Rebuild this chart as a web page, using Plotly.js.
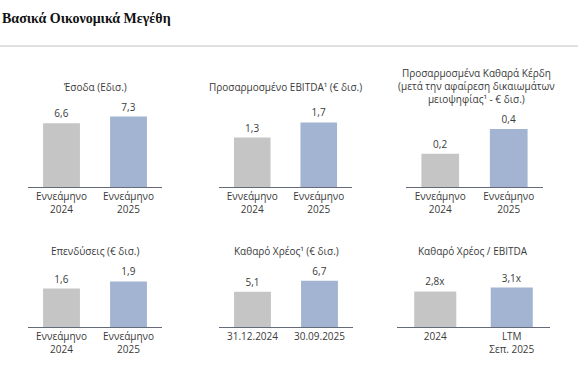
<!DOCTYPE html>
<html>
<head>
<meta charset="utf-8">
<script src="https://cdn.plot.ly/plotly-3.0.1.min.js"></script>
<style>html,body{margin:0;padding:0;background:#fff;}#chart{width:578px;height:391px;}</style>
</head>
<body>
<div id="chart"></div>
<script>
// ---- data ----
const nineMonthCats = ['Εννεάμηνο<br>2024', 'Εννεάμηνο<br>2025'];
const debtCats = ['31.12.2024', '30.09.2025'];
const leverageCats = ['2024', 'LTM<br>Σεπ. 2025'];

const revenue = [6.6, 7.3];
const revenueLabels = ['6,6', '7,3'];
const ebitda = [1.3, 1.7];
const ebitdaLabels = ['1,3', '1,7'];
const netProfit = [0.23, 0.40];
const netProfitLabels = ['0,2', '0,4'];
const capex = [1.6, 1.9];
const capexLabels = ['1,6', '1,9'];
const netDebt = [5.1, 6.7];
const netDebtLabels = ['5,1', '6,7'];
const leverage = [2.8, 3.1];
const leverageLabels = ['2,8x', '3,1x'];

const panelTitles = [
  'Έσοδα (Εδισ.)',
  'Προσαρμοσμένο EBITDA¹ (€ δισ.)',
  'Προσαρμοσμένα Καθαρά Κέρδη<br>(μετά την αφαίρεση δικαιωμάτων<br>μειοψηφίας¹ - € δισ.)',
  'Επενδύσεις (€ δισ.)',
  'Καθαρό Χρέος¹ (€ δισ.)',
  'Καθαρό Χρέος / EBITDA'
];
const mainTitle = 'Βασικά Οικονομικά Μεγέθη';

// ---- layout helpers ----
const W = 578, H = 391;
const px = x => x / W;
const py = y => (H - y) / H;
const grey = '#c5c5c5', blue = '#a2b4d2';
const txt = '#3a3a3a';
const FONT = 'Open Sans, sans-serif';

const panels = [
  {cats: nineMonthCats, vals: revenue, labels: revenueLabels, x0: 28, x1: 162, base: 187, top: 107, ymax: 8.29, ty: 87},
  {cats: nineMonthCats, vals: ebitda, labels: ebitdaLabels, x0: 219, x1: 352, base: 187, top: 107, ymax: 2.105, ty: 87},
  {cats: nineMonthCats, vals: netProfit, labels: netProfitLabels, x0: 406, x1: 543, base: 187, top: 107, ymax: 0.552, ty: 86},
  {cats: nineMonthCats, vals: capex, labels: capexLabels, x0: 28, x1: 162, base: 327, top: 267, ymax: 2.5, ty: 251},
  {cats: debtCats, vals: netDebt, labels: netDebtLabels, x0: 219, x1: 353, base: 327, top: 267, ymax: 8.7, ty: 251},
  {cats: leverageCats, vals: leverage, labels: leverageLabels, x0: 397, x1: 550, base: 327, top: 267, ymax: 4.72, ty: 251}
];

const traces = [];
const layout = {
  width: W, height: H,
  margin: {l: 0, r: 0, t: 0, b: 0},
  paper_bgcolor: '#fff', plot_bgcolor: '#fff',
  showlegend: false,
  font: {family: FONT, size: 10, color: txt},
  annotations: [],
  shapes: [{type: 'line', xref: 'paper', yref: 'paper', x0: 0, x1: 1, y0: py(46), y1: py(46), line: {color: '#c0c0c0', width: 1}}]
};

layout.annotations.push({
  text: '<b>' + mainTitle + '</b>', xref: 'paper', yref: 'paper', x: 0, y: py(18),
  xanchor: 'left', yanchor: 'middle', showarrow: false,
  font: {family: 'Liberation Serif, serif', size: 14, color: '#111'}
});

panels.forEach((p, i) => {
  const n = i + 1;
  const xa = 'x' + (n === 1 ? '' : n), ya = 'y' + (n === 1 ? '' : n);
  traces.push({
    type: 'bar', x: p.cats, y: p.vals, xaxis: xa, yaxis: ya,
    marker: {color: [grey, blue]}, width: 0.55,
    text: p.labels, textposition: 'outside', cliponaxis: false,
    textfont: {family: FONT, size: 10, color: txt},
    hoverinfo: 'none'
  });
  layout['xaxis' + (n === 1 ? '' : n)] = {
    domain: [px(p.x0), px(p.x1)], anchor: ya, type: 'category',
    range: [-0.5, 1.5], showline: true, linecolor: '#656a78', linewidth: 1,
    ticks: '', showgrid: false, zeroline: false, fixedrange: true,
    tickfont: {family: FONT, size: 10, color: txt}
  };
  layout['yaxis' + (n === 1 ? '' : n)] = {
    domain: [py(p.base), py(p.top)], anchor: xa, range: [0, p.ymax],
    showgrid: false, zeroline: false, showline: false, showticklabels: false, ticks: '', fixedrange: true
  };
  layout.annotations.push({
    text: panelTitles[i], xref: 'paper', yref: 'paper',
    x: px((p.x0 + p.x1) / 2 + (i === 2 ? 1.5 : 0)), y: py(p.ty),
    xanchor: 'center', yanchor: 'middle', showarrow: false,
    font: {family: FONT, size: 10, color: txt}
  });
});

Plotly.newPlot('chart', traces, layout, {displayModeBar: false, staticPlot: true});
</script>
</body>
</html>
